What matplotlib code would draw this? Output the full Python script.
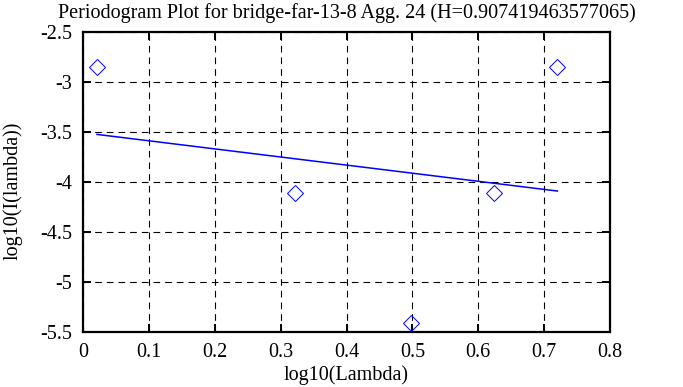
import numpy as np
import matplotlib
matplotlib.use("Agg")
import matplotlib.pyplot as plt

# Periodogram data
hurst = 0.907419463577065
logLambda = np.log10(1.05 * np.array([1, 2, 3, 4, 5]))
logI = np.array([-2.845, -4.105, -5.405, -4.105, -2.845])

xTicks = [0, 0.1, 0.2, 0.3, 0.4, 0.5, 0.6, 0.7, 0.8]
yTicks = [-2.5, -3, -3.5, -4, -4.5, -5, -5.5]
xTickLabels = ["0", "0.1", "0.2", "0.3", "0.4", "0.5", "0.6", "0.7", "0.8"]
yTickLabels = ["-2.5", "-3", "-3.5", "-4", "-4.5", "-5", "-5.5"]

plt.rcParams['font.family'] = ['Liberation Serif', 'DejaVu Serif']
fontSize = 14.5

fig = plt.figure(figsize=(6.83, 3.87), dpi=100)
ax = fig.add_axes([83 / 683, 1 - 332 / 387, (610 - 83) / 683, (332 - 32) / 387])

# least squares fit line, slope ~ 1 - 2H
slope, intercept = np.polyfit(logLambda, logI, 1)
fitX = np.array([logLambda[0], logLambda[-1]])
ax.plot(fitX, intercept + slope * fitX, color='blue', linewidth=1.1, zorder=3)

ax.plot(logLambda, logI, linestyle='none', marker='D', markersize=7.8,
        markerfacecolor='none', markeredgecolor='blue', markeredgewidth=0.7,
        zorder=4, clip_on=False)

ax.set_xlim(0, 0.8)
ax.set_ylim(-5.5, -2.5)
ax.set_xticks(xTicks)
ax.set_xticklabels(xTickLabels)
ax.set_yticks(yTicks)
ax.set_yticklabels(yTickLabels)

ax.grid(True, color='black', linestyle=(0, (6, 4.5)), linewidth=0.8)
ax.tick_params(direction='in', length=6, width=1.4, top=True, right=True,
               labelsize=fontSize, pad=8)
for spine in ax.spines.values():
    spine.set_linewidth(1.6)

ax.set_title("Periodogram Plot for bridge-far-13-8 Agg. 24 (H=%s)" % repr(hurst),
             fontsize=fontSize, pad=10)
ax.set_xlabel("log10(Lambda)", fontsize=fontSize, labelpad=2)
ax.set_ylabel("log10(I(lambda))", fontsize=fontSize)
ax.yaxis.set_label_coords(-0.115, 0.47)

fig.savefig("out.png", dpi=100)
